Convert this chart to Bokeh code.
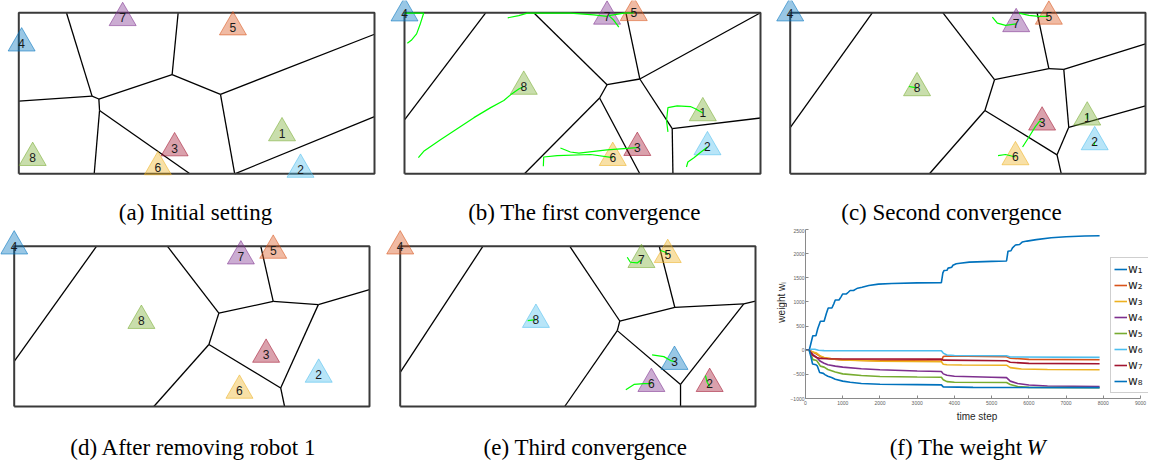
import math
import numpy as np
from bokeh.plotting import figure
from bokeh.layouts import row, column
from bokeh.models import Range1d, Legend, LegendItem, FixedTicker
from bokeh.core.properties import value
from bokeh.embed import file_html
from bokeh.resources import INLINE

# ---------------- data ----------------
ARENA_W, ARENA_H = 10.0, 4.5

BLUE, ORANGE, YELLOW, PURPLE = "#0072BD", "#D95319", "#EDB120", "#7E2F8E"
GREEN, LBLUE, DRED = "#77AC30", "#4DBEEE", "#A2142F"

# (a) initial setting
a_id = [1, 2, 3, 4, 5, 6, 7, 8]
a_x = [7.40, 7.92, 4.38, 0.08, 6.02, 3.91, 2.92, 0.39]
a_y = [1.14, 0.12, 0.72, 3.65, 4.10, 0.19, 4.36, 0.45]
a_col = [GREEN, LBLUE, DRED, BLUE, ORANGE, YELLOW, PURPLE, GREEN]
a_edge_x = [[1.34, 2.06], [2.06, 2.25], [0.0, 2.06], [2.25, 4.31], [4.31, 4.48], [4.31, 5.67],
            [5.67, 10.0], [5.67, 6.07], [6.07, 10.0], [2.25, 2.27], [2.27, 2.12], [2.27, 4.81]]
a_edge_y = [[4.50, 2.17], [2.17, 2.09], [2.03, 2.17], [2.09, 2.77], [2.77, 4.50], [2.77, 2.22],
            [2.22, 3.90], [2.22, 0.0], [0.0, 1.60], [2.09, 1.77], [1.77, 0.0], [1.77, 0.0]]
a_traj_x = []
a_traj_y = []

# (b) first convergence
b_id = [1, 2, 3, 4, 5, 6, 7, 8]
b_x = [8.38, 8.51, 6.54, 0.00, 6.44, 5.85, 5.69, 3.35]
b_y = [1.70, 0.75, 0.73, 4.49, 4.50, 0.45, 4.40, 2.44]
b_col = [GREEN, LBLUE, DRED, BLUE, ORANGE, YELLOW, PURPLE, GREEN]
b_edge_x = [[2.28, 0.0], [3.63, 5.69], [5.69, 6.61], [6.22, 6.61], [6.61, 10.0], [6.61, 7.52],
            [7.52, 10.0], [7.52, 7.54], [5.69, 5.48], [5.48, 3.37], [5.48, 6.61]]
b_edge_y = [[4.50, 1.51], [4.50, 2.49], [2.49, 2.65], [4.50, 2.65], [2.65, 4.50], [2.65, 1.26],
            [1.26, 1.56], [1.26, 0.0], [2.49, 2.12], [2.12, 0.0], [2.12, 0.0]]
b_traj_x = [[0.08, 0.19, 0.34, 0.45, 0.52, 0.54, 0.26, 0.0],
            [2.90, 3.21, 3.45, 4.66, 5.32, 5.69],
            [6.02, 5.88, 5.74, 6.16, 6.44],
            [0.39, 0.54, 1.01, 1.48, 1.95, 2.42, 2.79, 3.02, 3.21, 3.35],
            [7.40, 7.36, 7.40, 7.66, 8.03, 8.17, 8.38],
            [7.92, 7.96, 8.13, 8.32, 8.51],
            [4.38, 4.66, 4.90, 5.69, 6.54],
            [3.90, 3.91, 4.29, 5.23, 5.85]]
b_traj_y = [[3.65, 3.73, 3.91, 4.21, 4.43, 4.49, 4.49, 4.49],
            [4.36, 4.42, 4.49, 4.49, 4.44, 4.40],
            [4.10, 4.29, 4.42, 4.49, 4.50],
            [0.45, 0.63, 0.95, 1.26, 1.57, 1.85, 2.05, 2.24, 2.37, 2.44],
            [1.17, 1.49, 1.85, 1.90, 1.88, 1.82, 1.70],
            [0.19, 0.33, 0.45, 0.60, 0.75],
            [0.72, 0.61, 0.58, 0.67, 0.73],
            [0.21, 0.47, 0.51, 0.54, 0.45]]

# (c) second convergence
c_id = [1, 2, 3, 4, 5, 6, 7, 8]
c_x = [8.36, 8.57, 7.09, 0.00, 7.28, 6.34, 6.36, 3.57]
c_y = [1.58, 0.89, 1.44, 4.49, 4.40, 0.47, 4.19, 2.40]
c_col = [GREEN, LBLUE, DRED, BLUE, ORANGE, YELLOW, PURPLE, GREEN]
c_edge_x = [[2.31, 0.0], [4.30, 5.75], [5.75, 7.28], [6.95, 7.28], [7.28, 7.70], [7.70, 10.0],
            [7.70, 7.84], [7.84, 10.0], [7.84, 7.51], [7.51, 7.63], [7.51, 5.48], [5.48, 5.75],
            [5.48, 3.92]]
c_edge_y = [[4.50, 1.29], [4.50, 2.63], [2.63, 2.94], [4.50, 2.94], [2.94, 2.92], [2.92, 3.63],
            [2.92, 1.30], [1.30, 1.90], [1.30, 0.53], [0.53, 0.0], [0.53, 1.77], [1.77, 2.63],
            [1.77, 0.0]]
c_traj_x = [[5.69, 5.83, 6.06, 6.36], [6.44, 6.72, 7.00, 7.28], [3.34, 3.57],
            [6.54, 6.72, 6.90, 7.02, 7.09], [5.85, 6.06, 6.34], [8.36, 8.36], [8.55, 8.57]]
c_traj_y = [[4.38, 4.21, 4.15, 4.19], [4.49, 4.43, 4.40, 4.40], [2.44, 2.40],
            [0.75, 1.03, 1.32, 1.47, 1.44], [0.51, 0.54, 0.47], [1.68, 1.54], [0.79, 0.89]]

# (d) after removing robot 1
d_id = [2, 3, 4, 5, 6, 7, 8]
d_x = [8.57, 7.09, 0.00, 7.29, 6.34, 6.38, 3.58]
d_y = [0.90, 1.46, 4.50, 4.38, 0.45, 4.22, 2.41]
d_col = [LBLUE, DRED, BLUE, ORANGE, YELLOW, PURPLE, GREEN]
d_edge_x = [[2.32, 0.0], [4.31, 5.76], [5.76, 7.29], [6.94, 7.29], [7.29, 8.56], [8.56, 10.0],
            [8.56, 7.50], [7.50, 7.61], [7.50, 5.48], [5.48, 5.76], [5.48, 3.93]]
d_edge_y = [[4.50, 1.27], [4.50, 2.62], [2.62, 2.95], [4.50, 2.95], [2.95, 2.86], [2.86, 3.28],
            [2.86, 0.52], [0.52, 0.0], [0.52, 1.74], [1.74, 2.62], [1.74, 0.0]]
d_traj_x = []
d_traj_y = []

# (e) third convergence
e_id = [2, 3, 4, 5, 6, 7, 8]
e_x = [8.71, 7.72, 0.00, 7.53, 7.07, 6.79, 3.82]
e_y = [0.64, 1.26, 4.50, 4.26, 0.64, 4.12, 2.44]
e_col = [DRED, BLUE, ORANGE, YELLOW, PURPLE, GREEN, LBLUE]
e_edge_x = [[2.33, 0.0], [4.77, 6.18], [6.18, 7.73], [7.29, 7.73], [7.73, 9.67], [9.67, 10.0],
            [9.67, 7.89], [7.89, 7.89], [7.89, 6.11], [6.11, 6.18], [6.11, 4.63]]
e_edge_y = [[4.50, 0.96], [4.50, 2.40], [2.40, 2.78], [4.50, 2.78], [2.78, 2.88], [2.88, 2.96],
            [2.88, 0.62], [0.62, 0.0], [0.62, 2.13], [2.13, 2.40], [2.13, 0.0]]
e_traj_x = [[6.39, 6.48, 6.67, 6.79], [7.33, 7.47, 7.53], [3.59, 3.82],
            [7.09, 7.42, 7.61, 7.72], [6.35, 6.58, 6.86, 7.07], [8.59, 8.64, 8.71]]
e_traj_y = [[4.19, 4.05, 4.03, 4.12], [4.38, 4.33, 4.26], [2.41, 2.44],
            [1.45, 1.40, 1.29, 1.26], [0.47, 0.62, 0.64, 0.64], [0.87, 0.68, 0.56]]

captions = ["(a) Initial setting", "(b) The first convergence", "(c) Second convergence",
            "(d) After removing robot 1", "(e) Third convergence", "(f) The weight"]

# (f) weights over time
w_names = ["w\u2081", "w\u2082", "w\u2083", "w\u2084", "w\u2085", "w\u2086", "w\u2087", "w\u2088"]
w_colors = [BLUE, ORANGE, YELLOW, PURPLE, GREEN, LBLUE, DRED, BLUE]
w1_t = [0, 100, 196, 280, 330, 400, 500, 560, 610, 710, 760, 800, 900, 950, 1000, 1100, 1150, 1200,
        1290, 1340, 1400, 1520, 1700, 1960, 2320, 3000, 3650, 3690, 3720, 3800, 3830, 3930, 3960, 4050,
        4150, 4400, 5000, 5400, 5440, 5520, 5560, 5640, 5750, 5820, 5950, 6200, 6600, 7000, 7500, 7900]
w1_v = [0, 0, 300, 300, 450, 600, 600, 760, 875, 875, 960, 1040, 1040, 1100, 1165, 1165, 1200, 1236,
        1236, 1260, 1285, 1305, 1340, 1368, 1382, 1395, 1400, 1600, 1650, 1655, 1700, 1720, 1760, 1790,
        1800, 1825, 1840, 1848, 2050, 2060, 2120, 2180, 2190, 2240, 2260, 2290, 2330, 2350, 2365, 2370]
w2_t = [0, 100, 200, 300, 400, 500, 700, 1000, 2000, 3650, 3700, 3800, 5400, 5500, 6000, 7900]
w2_v = [0, 0, -40, -80, -130, -160, -180, -200, -215, -225, -130, -120, -133, -165, -190, -198]
w3_t = [0, 100, 200, 300, 400, 500, 700, 1000, 2000, 3650, 3700, 3800, 4200, 5400, 5500, 5800, 6500, 7900]
w3_v = [0, 0, -40, -60, -120, -150, -180, -200, -228, -240, -290, -300, -306, -310, -360, -390, -400, -405]
w4_t = [0, 100, 150, 200, 300, 400, 500, 600, 800, 1000, 1500, 2000, 3000, 3650, 3700, 3800, 4000,
        5000, 5400, 5500, 5700, 6000, 6500, 7900]
w4_v = [0, 0, -50, -90, -150, -230, -270, -300, -330, -350, -385, -405, -430, -440, -490, -520, -540,
        -560, -568, -640, -690, -720, -740, -752]
w5_t = [0, 100, 150, 200, 300, 350, 400, 500, 600, 800, 1000, 1500, 2000, 3000, 3650, 3700, 3800,
        4000, 5400, 5500, 5700, 6000, 7900]
w5_v = [0, 0, -100, -195, -215, -270, -330, -350, -400, -450, -490, -525, -545, -555, -560, -610, -650,
        -662, -670, -710, -750, -770, -778]
w6_t = [0, 100, 150, 250, 350, 500, 1000, 3650, 3700, 3800, 4000, 5400, 5500, 7900]
w6_v = [0, 0, 20, 20, 0, -8, -12, -12, -60, -100, -110, -115, -140, -148]
w7_t = [0, 100, 150, 200, 300, 400, 600, 1000, 3650, 3700, 5400, 5500, 6000, 7900]
w7_v = [0, 0, -60, -110, -150, -170, -178, -182, -185, -205, -218, -250, -272, -280]
w8_t = [0, 100, 150, 190, 280, 320, 380, 480, 520, 600, 700, 800, 1000, 1200, 1500, 2000, 3000,
        3650, 3700, 4500, 7900]
w8_v = [0, 0, -150, -285, -300, -330, -460, -480, -505, -540, -565, -600, -640, -665, -690, -705, -712,
        -718, -760, -770, -775]
x_ticks = [0, 1000, 2000, 3000, 4000, 5000, 6000, 7000, 8000, 9000]
y_ticks = [-1000, -500, 0, 500, 1000, 1500, 2000, 2500]
x_label = "time step"
y_label = "weight w\u1d62"

# ---------------- layout helpers ----------------
SERIF = value("Liberation Serif")
SANS = value("Liberation Sans")
CAP_SIZE = "23px"


def make_panel(left, top, w, h, box):
    """Figure covering reference pixels [left, left+w] x [top, top+h]; the arena box at box
    (left, top, right, bottom) in reference pixels."""
    bl, bt, br, bb = box[0] - left, box[1] - top, box[2] - left, box[3] - top
    sx = (br - bl) / ARENA_W
    sy = (bb - bt) / ARENA_H
    xr = Range1d(-bl / sx, ARENA_W + (w - br) / sx)
    yr = Range1d(-(h - bb) / sy, ARENA_H + bt / sy)
    p = figure(width=w, height=h, x_range=xr, y_range=yr, output_backend="svg",
               toolbar_location=None, min_border=0, title=None,
               x_axis_location=None, y_axis_location=None)
    p.grid.visible = False
    p.outline_line_color = None
    p.background_fill_color = "white"

    def to_data(px, py):
        return (px - left - bl) / sx, ARENA_H - (py - top - bt) / sy
    return p, to_data


def blank_fig(w, h, xr, yr):
    p = figure(width=w, height=h, x_range=xr, y_range=yr, output_backend="svg",
               toolbar_location=None, min_border=0, title=None,
               x_axis_location=None, y_axis_location=None)
    p.grid.visible = False
    p.outline_line_color = None
    return p


def draw_panel(p, to_data, ids, xs, ys, cols, ex, ey, tx, ty, cap, cap_pos):
    p.multi_line(ex, ey, line_color="black", line_width=1.3)
    p.line([0, ARENA_W, ARENA_W, 0, 0], [0, 0, ARENA_H, ARENA_H, 0],
           line_color="#3a3a3a", line_width=2)
    p.scatter(xs, ys, marker="triangle", size=27, fill_color=cols, fill_alpha=0.4,
              line_color=cols, line_alpha=0.55, line_width=1)
    if tx:
        p.multi_line(tx, ty, line_color="#00ff00", line_width=1.2)
    p.text(xs, ys, text=[str(i) for i in ids], text_align="center", text_baseline="middle",
           text_font=SANS, text_font_size="12px", text_color="#1a1a1a")
    cx, cy = to_data(*cap_pos)
    p.text([cx], [cy], text=[cap], text_align="center", text_baseline="middle",
           text_font=SERIF, text_font_size=CAP_SIZE, text_color="black")


# column / row extents in reference pixels
C0, C1, C2, C3 = 0, 385, 775, 1151
R0, R1, R2 = 0, 228, 466

pa, ta = make_panel(C0, R0, C1 - C0, R1 - R0, (18.3, 12.3, 374.0, 173.3))
draw_panel(pa, ta, a_id, a_x, a_y, a_col, a_edge_x, a_edge_y, a_traj_x, a_traj_y, captions[0], (195, 212))
pb, tb = make_panel(C1, R0, C2 - C1, R1 - R0, (404.0, 12.3, 760.0, 173.3))
draw_panel(pb, tb, b_id, b_x, b_y, b_col, b_edge_x, b_edge_y, b_traj_x, b_traj_y, captions[1], (584, 212))
pc, tc = make_panel(C2, R0, C3 - C2, R1 - R0, (789.7, 12.3, 1145.0, 173.3))
draw_panel(pc, tc, c_id, c_x, c_y, c_col, c_edge_x, c_edge_y, c_traj_x, c_traj_y, captions[2], (951, 212))
pd, td = make_panel(C0, R1, C1 - C0, R2 - R1, (13.7, 245.7, 369.0, 406.0))
draw_panel(pd, td, d_id, d_x, d_y, d_col, d_edge_x, d_edge_y, d_traj_x, d_traj_y, captions[3], (193, 447))
pe, te = make_panel(C1, R1, C2 - C1, R2 - R1, (399.7, 245.7, 755.0, 406.0))
draw_panel(pe, te, e_id, e_x, e_y, e_col, e_edge_x, e_edge_y, e_traj_x, e_traj_y, captions[4], (585, 447))

# (f) weight plot: narrow y-label strip + plot + caption strip
YL_W = 12
FW = C3 - C2 - YL_W
FH = 197
F_LEFT = 16          # frame left edge inside the plot figure (axis at ref x ~803)
F_WIDTH = 345        # frame reaches ref x ~1148 so the legend is not clipped
X_END = 9000 * F_WIDTH / 337.0
pf = figure(width=FW, height=FH, x_range=Range1d(0, X_END), y_range=Range1d(-1000, 2500),
            output_backend="svg", toolbar_location=None, title=None,
            min_border_left=F_LEFT, min_border_right=FW - F_LEFT - F_WIDTH,
            min_border_top=1, min_border_bottom=27)
pf.grid.visible = False
pf.outline_line_color = None
series = [(w1_t, w1_v), (w2_t, w2_v), (w3_t, w3_v), (w4_t, w4_v),
          (w5_t, w5_v), (w6_t, w6_v), (w7_t, w7_v), (w8_t, w8_v)]
renderers = []
for (t, v), c in zip(series, w_colors):
    renderers.append(pf.line(t, v, line_color=c, line_width=1.6))
for ax in (pf.xaxis[0], pf.yaxis[0]):
    ax.axis_line_color = "#8a8a8a"
    ax.major_tick_line_color = "#8a8a8a"
    ax.major_tick_in = 3
    ax.major_tick_out = 0
    ax.minor_tick_line_color = None
    ax.major_label_text_font = "Liberation Sans"
    ax.major_label_text_font_size = "5px"
    ax.major_label_text_color = "#606060"
    ax.axis_label_text_font = "Liberation Sans"
    ax.axis_label_text_font_size = "10px"
    ax.axis_label_text_font_style = "normal"
    ax.axis_label_text_color = "#262626"
pf.xaxis.ticker = FixedTicker(ticks=x_ticks)
pf.yaxis.ticker = FixedTicker(ticks=y_ticks)
pf.xaxis.bounds = (x_ticks[0], x_ticks[-1])
pf.xaxis.axis_label = x_label
pf.xaxis.major_label_standoff = 2
pf.xaxis.axis_label_standoff = 3
pf.yaxis.major_label_standoff = 1

legend = Legend(items=[LegendItem(label=n, renderers=[r]) for n, r in zip(w_names, renderers)],
                location=(305, 5), orientation="vertical")
legend.border_line_color = "#a0a0a0"
legend.border_line_width = 1
legend.background_fill_color = "white"
legend.background_fill_alpha = 1.0
legend.padding = 3
legend.spacing = 0
legend.margin = 0
legend.glyph_width = 13
legend.glyph_height = 16
legend.label_height = 16
legend.label_width = 18
legend.label_standoff = 1
legend.label_text_font = "DejaVu Sans"
legend.label_text_font_size = "12px"
legend.label_text_color = "#262626"
pf.add_layout(legend)

# rotated y-axis title strip, in reference pixel units
pyl = blank_fig(YL_W, FH, Range1d(C2, C2 + YL_W), Range1d(R1 + FH, R1))
pyl.text([781], [313], text=[y_label], angle=math.pi / 2, text_align="center", text_baseline="middle",
         text_font=SANS, text_font_size="10px", text_color="#262626")

# caption below (f), in reference pixel units
CH = R2 - R1 - FH
pcap = blank_fig(C3 - C2, CH, Range1d(C2, C3), Range1d(R1 + FH + CH, R1 + FH))
pcap.text([1022], [447], text=[captions[5]], text_align="right", text_baseline="middle",
          text_font=SERIF, text_font_size=CAP_SIZE, text_color="black")
pcap.text([1026], [447], text=["W"], text_align="left", text_baseline="middle",
          text_font=SERIF, text_font_size=CAP_SIZE, text_font_style="italic", text_color="black")

layout = column(row(pa, pb, pc, spacing=0),
                row(pd, pe, column(row(pyl, pf, spacing=0), pcap, spacing=0), spacing=0),
                spacing=0)

open("out.html", "w").write(file_html(layout, INLINE))
